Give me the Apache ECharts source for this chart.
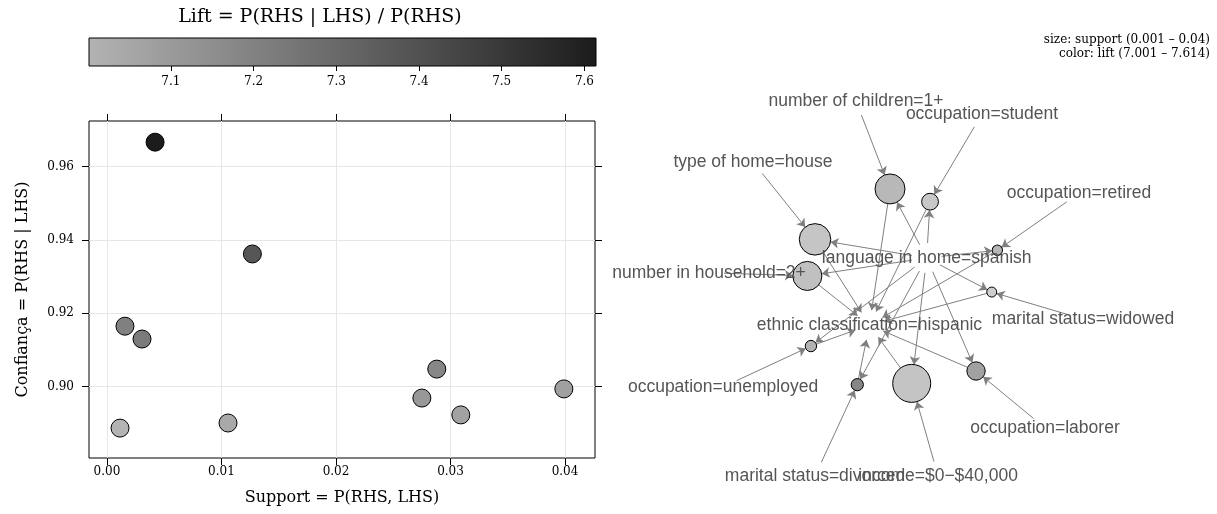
<!DOCTYPE html>
<html>
<head>
<meta charset="utf-8">
<script src="https://cdn.jsdelivr.net/npm/echarts@6/dist/echarts.min.js"></script>
<style>
  html, body { margin: 0; padding: 0; background: #ffffff; }
  #chart { width: 1217px; height: 514px; }
</style>
</head>
<body>
<div id="chart"></div>
<script>
// ---- Rules: {lhsItem, language in home=spanish} => {ethnic classification=hispanic}
const ruleLhs = [
  'marital status=divorced', 'occupation=laborer', 'occupation=retired',
  'occupation=unemployed', 'marital status=widowed', 'occupation=student',
  'number of children=1+', 'number in household=2+', 'type of home=house',
  'income=$0\u2212$40,000'
];
const ruleSupport    = [0.0042, 0.0127, 0.00157, 0.00306, 0.00114, 0.01057, 0.0288, 0.0275, 0.0309, 0.0399];
const ruleConfidence = [0.9667, 0.9362, 0.9165, 0.9130, 0.8887, 0.8901, 0.9048, 0.8969, 0.8923, 0.8994];
const ruleLift       = [7.614, 7.38, 7.21, 7.23, 7.001, 7.04, 7.18, 7.11, 7.07, 7.08];

// graph layout coordinates (normalised to [-1, 1]) of each rule vertex
const ruleLayoutX = [-0.207, 0.428, 0.542, -0.455, 0.512, 0.182, -0.032, -0.474, -0.433, 0.084];
const ruleLayoutY = [-0.513, -0.440, 0.204, -0.307, -0.019, 0.463, 0.531, 0.067, 0.262, -0.506];

// item vertices (labels): LHS items in rule order, then the shared items
const lhsLayoutX = [-0.433, 0.797, 0.979, -0.925, 1.0, 0.460, -0.214, -1.0, -0.765, 0.225];
const lhsLayoutY = [-1.0, -0.744, 0.508, -0.525, -0.163, 0.931, 1.0, 0.084, 0.676, -1.0];
const sharedLhsItem = 'language in home=spanish';
const sharedLhsLayout = [0.164, 0.163];
const rhsItem = 'ethnic classification=hispanic';
const rhsLayout = [-0.142, -0.195];

// axis ticks
const supportTicks = [0, 0.01, 0.02, 0.03, 0.04];
const confidenceTicks = [0.90, 0.92, 0.94, 0.96];
const liftTicks = [7.1, 7.2, 7.3, 7.4, 7.5, 7.6];

// ---- derived ranges
const liftMin = Math.min(...ruleLift), liftMax = Math.max(...ruleLift);
const supMin = Math.min(...ruleSupport), supMax = Math.max(...ruleSupport);

const SERIF = 'DejaVu Serif';
const SANS = 'Liberation Sans';
const scatterRamp = ['#b3b3b3', '#1c1c1c'];
const graphRamp = ['#cdcdcd', '#868686'];

function liftColor(v, ramp) {
  return echarts.color.lerp((v - liftMin) / (liftMax - liftMin), ramp);
}
function supportDiameter(s) {
  return 10 + (s - supMin) / (supMax - supMin) * 28;
}

// ---- graph nodes and links
const graphNodes = [];
const graphLinks = [];
const itemNodeStyle = { color: 'rgba(0,0,0,0)', borderWidth: 0 };
const itemLabel = {
  show: true, position: 'inside', color: '#555555',
  fontFamily: SANS, fontSize: 17.5, formatter: '{b}'
};
ruleLhs.forEach((lhs, i) => {
  graphNodes.push({
    name: 'rule ' + (i + 1),
    value: [ruleLayoutX[i], ruleLayoutY[i]],
    symbolSize: supportDiameter(ruleSupport[i]),
    itemStyle: { color: liftColor(ruleLift[i], graphRamp), borderColor: '#000', borderWidth: 1 },
    label: { show: false }
  });
});
ruleLhs.forEach((lhs, i) => {
  graphNodes.push({
    name: lhs, value: [lhsLayoutX[i], lhsLayoutY[i]],
    symbolSize: 30, itemStyle: itemNodeStyle, label: itemLabel
  });
});
graphNodes.push({ name: sharedLhsItem, value: sharedLhsLayout, symbolSize: 30, itemStyle: itemNodeStyle, label: itemLabel });
graphNodes.push({ name: rhsItem, value: rhsLayout, symbolSize: 30, itemStyle: itemNodeStyle, label: itemLabel });

ruleLhs.forEach((lhs, i) => {
  const r = 'rule ' + (i + 1);
  graphLinks.push({ source: lhs, target: r });
  graphLinks.push({ source: sharedLhsItem, target: r });
  graphLinks.push({ source: r, target: rhsItem });
});

// ---- chart
const chart = echarts.init(document.getElementById('chart'), null, { renderer: 'canvas' });

const tickStyle = { show: true, length: 7, lineStyle: { color: '#000', width: 1 } };
const labelStyle = { color: '#000', fontFamily: SERIF, fontSize: 12 };
const hiddenLine = { show: false, onZero: false };

chart.setOption({
  animation: false,
  backgroundColor: '#ffffff',
  grid: [
    { left: 89, top: 121, width: 506, height: 337, show: true, borderColor: '#000', borderWidth: 1, backgroundColor: 'transparent' },
    { left: 89, top: 38, width: 507, height: 28, show: false },
    { left: 709, top: 101, width: 374, height: 375, show: false }
  ],
  xAxis: [
    {
      gridIndex: 0, type: 'value', position: 'bottom', min: -0.00157, max: 0.04262,
      axisLine: hiddenLine,
      axisTick: Object.assign({ customValues: supportTicks }, tickStyle),
      axisLabel: Object.assign({ customValues: supportTicks, margin: 8, formatter: v => v.toFixed(2) }, labelStyle),
      splitLine: { show: true, lineStyle: { color: '#e6e6e6', width: 1 } },
      name: 'Support = P(RHS, LHS)', nameLocation: 'middle', nameGap: 32,
      nameTextStyle: { color: '#000', fontFamily: SERIF, fontSize: 16 }
    },
    {
      gridIndex: 0, type: 'value', position: 'top', min: -0.00157, max: 0.04262,
      axisLine: hiddenLine,
      axisTick: Object.assign({ customValues: supportTicks }, tickStyle),
      axisLabel: { show: false }, splitLine: { show: false }
    },
    {
      gridIndex: 1, type: 'value', position: 'bottom', min: liftMin, max: liftMax,
      axisLine: hiddenLine,
      axisTick: { show: true, length: 5, customValues: liftTicks, lineStyle: { color: '#000' } },
      axisLabel: Object.assign({ customValues: liftTicks, margin: 10, formatter: v => v.toFixed(1) }, labelStyle),
      splitLine: { show: false }
    },
    { gridIndex: 2, type: 'value', min: -1, max: 1, show: false }
  ],
  yAxis: [
    {
      gridIndex: 0, type: 'value', position: 'left', min: 0.88055, max: 0.97247,
      axisLine: hiddenLine,
      axisTick: Object.assign({ customValues: confidenceTicks }, tickStyle),
      axisLabel: Object.assign({ customValues: confidenceTicks, margin: 15, formatter: v => v.toFixed(2) }, labelStyle),
      splitLine: { show: true, lineStyle: { color: '#e6e6e6', width: 1 } },
      name: 'Confian\u00e7a = P(RHS | LHS)', nameLocation: 'middle', nameGap: 58,
      nameTextStyle: { color: '#000', fontFamily: SERIF, fontSize: 16 }
    },
    {
      gridIndex: 0, type: 'value', position: 'right', min: 0.88055, max: 0.97247,
      axisLine: hiddenLine,
      axisTick: Object.assign({ customValues: confidenceTicks }, tickStyle),
      axisLabel: { show: false }, splitLine: { show: false }
    },
    { gridIndex: 1, type: 'value', min: 0, max: 1, show: false },
    { gridIndex: 2, type: 'value', min: -1, max: 1, show: false }
  ],
  visualMap: [{
    show: false, type: 'continuous', seriesIndex: 0, dimension: 2,
    min: liftMin, max: liftMax, inRange: { color: scatterRamp }
  }],
  graphic: [
    { type: 'text', x: 320, y: 17, style: { text: 'Lift = P(RHS | LHS) / P(RHS)', fill: '#000', font: '19px "DejaVu Serif"', textAlign: 'center', textVerticalAlign: 'middle' } },
    { type: 'text', x: 1210, y: 40, style: { text: 'size: support (' + supMin.toFixed(3) + ' \u2013 ' + (+supMax.toFixed(2)) + ')', fill: '#000', font: '12px "DejaVu Serif"', textAlign: 'right', textVerticalAlign: 'middle' } },
    { type: 'text', x: 1210, y: 54, style: { text: 'color: lift (' + liftMin.toFixed(3) + ' \u2013 ' + liftMax.toFixed(3) + ')', fill: '#000', font: '12px "DejaVu Serif"', textAlign: 'right', textVerticalAlign: 'middle' } }
  ],
  series: [
    {
      type: 'scatter', xAxisIndex: 0, yAxisIndex: 0,
      data: ruleSupport.map((s, i) => [s, ruleConfidence[i], ruleLift[i]]),
      symbol: 'circle', symbolSize: 18,
      itemStyle: { borderColor: '#000', borderWidth: 1, opacity: 1 },
      silent: true, z: 3
    },
    {
      type: 'custom', xAxisIndex: 2, yAxisIndex: 2, silent: true,
      data: [[liftMin, liftMax]],
      renderItem: function (params, api) {
        const p0 = api.coord([api.value(0), 0]);
        const p1 = api.coord([api.value(1), 1]);
        return {
          type: 'rect',
          shape: { x: p0[0], y: p1[1], width: p1[0] - p0[0], height: p0[1] - p1[1] },
          style: {
            fill: new echarts.graphic.LinearGradient(0, 0, 1, 0, [
              { offset: 0, color: scatterRamp[0] }, { offset: 1, color: scatterRamp[1] }
            ]),
            stroke: '#000', lineWidth: 1
          }
        };
      }
    },
    {
      type: 'graph', coordinateSystem: 'cartesian2d', xAxisIndex: 3, yAxisIndex: 3,
      layout: 'none', silent: true,
      data: graphNodes, links: graphLinks,
      edgeSymbol: ['circle', 'arrow'], edgeSymbolSize: [0, 8],
      lineStyle: { color: '#7f7f7f', width: 1, opacity: 1, curveness: 0 },
      emphasis: { disabled: true }
    }
  ]
});
</script>
</body>
</html>
